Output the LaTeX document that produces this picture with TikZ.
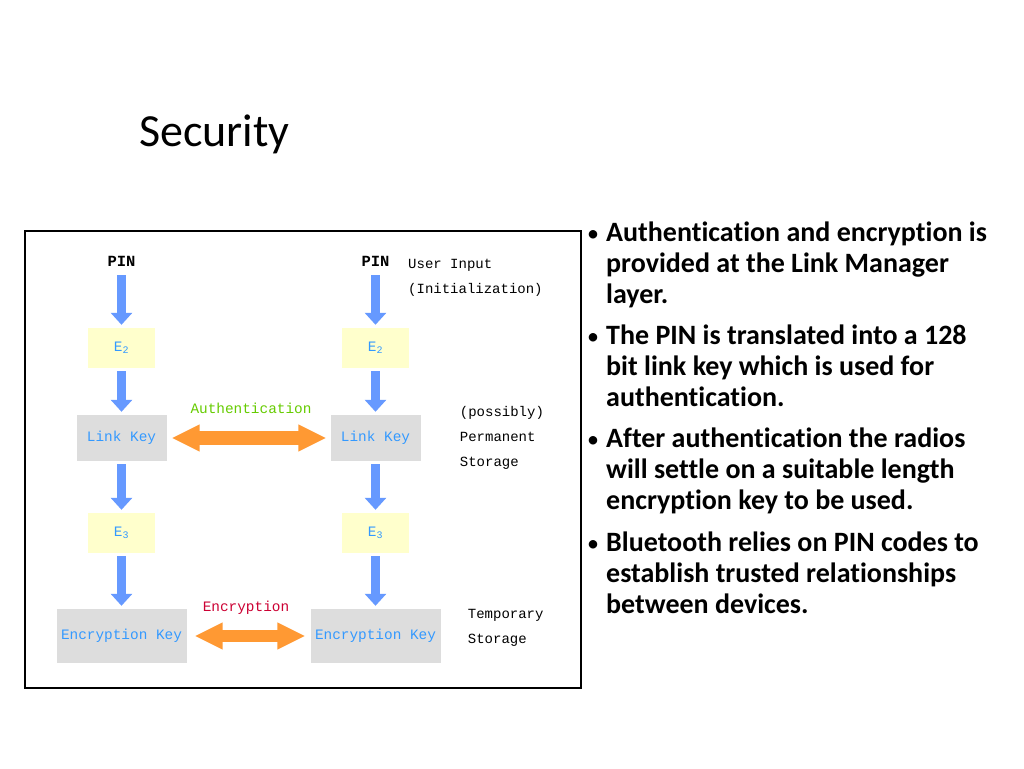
\documentclass[tikz,border=0pt]{standalone}
\usepackage{fontspec}
\setmainfont[Ligatures=NoCommon]{Carlito}
\newfontfamily\pixfont{Liberation Mono}
\usetikzlibrary{arrows.meta, positioning}
\definecolor{cflow}{HTML}{6699FF}
\definecolor{cboxtext}{HTML}{3399FF}
\definecolor{cyellow}{HTML}{FFFFCC}
\definecolor{cgreyk}{HTML}{DDDDDD}
\definecolor{corange}{HTML}{FF9933}
\definecolor{cgreen}{HTML}{66CC00}
\definecolor{cred}{HTML}{CC0033}
\tikzset{
  every picture/.style={x=1pt, y=-1pt},
  ebox/.style={fill=cyellow, minimum width=67pt, minimum height=40pt, inner sep=0pt, text=cboxtext, font=\pixfont\fontsize{14.4}{16}\selectfont},
  keybox/.style={fill=cgreyk, minimum width=#1, inner sep=0pt, text=cboxtext, font=\pixfont\fontsize{14.4}{16}\selectfont},
  pinlabel/.style={inner sep=0pt, font=\pixfont\bfseries\fontsize{15.5}{17}\selectfont},
  side/.style={inner sep=0pt, align=left, font=\pixfont\fontsize{14}{25}\selectfont},
  flow/.style={-{Triangle[width=21pt, length=12pt]}, draw=cflow, line width=9pt, shorten <=3pt, shorten >=3pt},
  link/.style={{Triangle[width=25pt, length=28pt]}-{Triangle[width=25pt, length=28pt]}, draw=corange, line width=14pt},
  bullet/.style={inner sep=0pt, anchor=base west, font=\fontsize{24}{31}\selectfont},
  bullettext/.style={inner sep=0pt, anchor=base west, align=left, font=\bfseries\fontsize{28}{31}\selectfont},
}

\begin{document}
\begin{tikzpicture}
  \fill[white] (0,0) rectangle (1024,768);
  \useasboundingbox (0,0) rectangle (1024,768);
  \node[inner sep=0pt, anchor=base west, font=\fontsize{46}{50}\selectfont] (title) at (139,146) {Security};

  % diagram frame
  \draw[line width=1.5pt] (25,231) rectangle (581,688);

  % the two key chains
  \foreach \c/\x in {A/121.5, B/375.5} {
    \node[pinlabel] (pin\c) at (\x,261) {PIN};
    \node[ebox] (e1\c) at (\x,348) {E\textsubscript{2}};
    \node[keybox=90pt, minimum height=46pt] (lk\c) at (\x,438) {Link Key};
    \node[ebox] (e2\c) at (\x,533) {E\textsubscript{3}};
    \node[keybox=130pt, minimum height=54pt] (ek\c) at (\x,636) {Encryption Key};
    \draw[flow, shorten <=9pt] (pin\c) -- (e1\c);
    \foreach \a/\b in {e1/lk, lk/e2, e2/ek} \draw[flow] (\a\c) -- (\b\c);
  }

  \draw[link, shorten <=5pt, shorten >=4pt] (lkA) -- (lkB);
  \draw[link, line width=12pt, shorten <=8pt, shorten >=5pt] (ekA) -- (ekB);
  \node[inner sep=0pt, text=cgreen, font=\pixfont\fontsize{14.4}{16}\selectfont] (auth) at (251,408) {Authentication};
  \node[inner sep=0pt, text=cred, font=\pixfont\fontsize{14.4}{16}\selectfont] (enc) at (246,608) {Encryption};

  % side notes
  \node[side, anchor=north west] (input) at (408,259) {User Input\\ (Initialization)};
  \node[side, right=39pt of lkB] (perm) {(possibly)\\Permanent\\Storage};
  \node[side, right=27pt of ekB, yshift=8pt] (temp) {Temporary\\Storage};

  % bullets (base anchor sits on the last line)
  \node[bullet] (b1) at (587,241) {\textbullet};
  \node[bullettext] (t1) at (606,303) {Authentication and encryption is\\provided at the Link Manager\\layer.};
  \node[bullet] (b2) at (587,344) {\textbullet};
  \node[bullettext] (t2) at (606,406) {The PIN is translated into a 128\\bit link key which is used for\\authentication.};
  \node[bullet] (b3) at (587,447) {\textbullet};
  \node[bullettext] (t3) at (606,509) {After authentication the radios\\will settle on a suitable length\\encryption key to be used.};
  \node[bullet] (b4) at (587,551) {\textbullet};
  \node[bullettext] (t4) at (606,613) {Bluetooth relies on PIN codes to\\establish trusted relationships\\between devices.};
\end{tikzpicture}
\end{document}
